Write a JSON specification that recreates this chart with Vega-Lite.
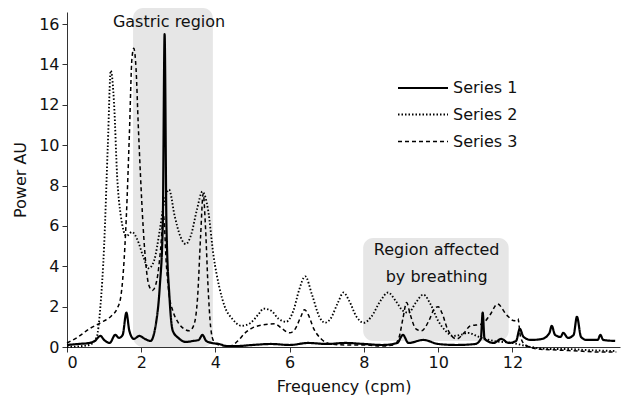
{
  "$schema": "https://vega.github.io/schema/vega-lite/v6.json",
  "width": 553,
  "height": 335,
  "autosize": "none",
  "padding": {"left": 67, "top": 12, "right": 10, "bottom": 64},
  "background": "white",
  "config": {
    "view": {"stroke": null},
    "font": "DejaVu Sans",
    "axis": {"domainColor": "#333", "tickColor": "#333", "labelColor": "#111", "titleColor": "#111", "labelFont": "DejaVu Sans", "titleFont": "DejaVu Sans", "labelFontSize": 16, "titleFontSize": 16, "titleFontWeight": "normal", "grid": false}
  },
  "datasets": {
    "regions": [
      {"name": "Gastric", "x": 1.78, "x2": 3.93, "y": 0, "y2": 16.8},
      {"name": "Breathing", "x": 7.98, "x2": 11.9, "y": 0.3, "y2": 5.4}
    ],
    "labels": [
      {"x": 2.75, "y": 16.1, "text": "Gastric region"},
      {"x": 9.96, "y": 4.8, "text": "Region affected"},
      {"x": 9.96, "y": 3.47, "text": "by breathing"}
    ],
    "curves": [
      {"series": "Series 1", "x": 0, "y": 0.1},
      {"series": "Series 1", "x": 0.3, "y": 0.15},
      {"series": "Series 1", "x": 0.6, "y": 0.2},
      {"series": "Series 1", "x": 0.75, "y": 0.3},
      {"series": "Series 1", "x": 0.9, "y": 0.55},
      {"series": "Series 1", "x": 1.0, "y": 0.35},
      {"series": "Series 1", "x": 1.15, "y": 0.2},
      {"series": "Series 1", "x": 1.3, "y": 0.6},
      {"series": "Series 1", "x": 1.4, "y": 0.45},
      {"series": "Series 1", "x": 1.5, "y": 0.6},
      {"series": "Series 1", "x": 1.6, "y": 1.7},
      {"series": "Series 1", "x": 1.68, "y": 0.8},
      {"series": "Series 1", "x": 1.8, "y": 0.4},
      {"series": "Series 1", "x": 1.95, "y": 0.55},
      {"series": "Series 1", "x": 2.1, "y": 0.4},
      {"series": "Series 1", "x": 2.25, "y": 0.3},
      {"series": "Series 1", "x": 2.4, "y": 1.2},
      {"series": "Series 1", "x": 2.5, "y": 3.0},
      {"series": "Series 1", "x": 2.58, "y": 6.0},
      {"series": "Series 1", "x": 2.63, "y": 15.5},
      {"series": "Series 1", "x": 2.68, "y": 6.0},
      {"series": "Series 1", "x": 2.76, "y": 2.5},
      {"series": "Series 1", "x": 2.85, "y": 0.8},
      {"series": "Series 1", "x": 3.0, "y": 0.45},
      {"series": "Series 1", "x": 3.2, "y": 0.25},
      {"series": "Series 1", "x": 3.4, "y": 0.3},
      {"series": "Series 1", "x": 3.55, "y": 0.35},
      {"series": "Series 1", "x": 3.65, "y": 0.6},
      {"series": "Series 1", "x": 3.75, "y": 0.3},
      {"series": "Series 1", "x": 3.9, "y": 0.2},
      {"series": "Series 1", "x": 4.1, "y": 0.15},
      {"series": "Series 1", "x": 4.3, "y": 0.05},
      {"series": "Series 1", "x": 4.6, "y": 0.05},
      {"series": "Series 1", "x": 5.0, "y": 0.1},
      {"series": "Series 1", "x": 5.5, "y": 0.15},
      {"series": "Series 1", "x": 6.0, "y": 0.1},
      {"series": "Series 1", "x": 6.5, "y": 0.2},
      {"series": "Series 1", "x": 7.0, "y": 0.15},
      {"series": "Series 1", "x": 7.5, "y": 0.2},
      {"series": "Series 1", "x": 8.0, "y": 0.15},
      {"series": "Series 1", "x": 8.5, "y": 0.1},
      {"series": "Series 1", "x": 8.9, "y": 0.2},
      {"series": "Series 1", "x": 9.05, "y": 0.6},
      {"series": "Series 1", "x": 9.2, "y": 0.2},
      {"series": "Series 1", "x": 9.6, "y": 0.35},
      {"series": "Series 1", "x": 10.0, "y": 0.15},
      {"series": "Series 1", "x": 10.5, "y": 0.1},
      {"series": "Series 1", "x": 11.0, "y": 0.15},
      {"series": "Series 1", "x": 11.15, "y": 0.4},
      {"series": "Series 1", "x": 11.2, "y": 1.7},
      {"series": "Series 1", "x": 11.25, "y": 0.4},
      {"series": "Series 1", "x": 11.5, "y": 0.2},
      {"series": "Series 1", "x": 11.7, "y": 0.4},
      {"series": "Series 1", "x": 11.9, "y": 0.2},
      {"series": "Series 1", "x": 12.1, "y": 0.3},
      {"series": "Series 1", "x": 12.2, "y": 0.9},
      {"series": "Series 1", "x": 12.3, "y": 0.5},
      {"series": "Series 1", "x": 12.5, "y": 0.35},
      {"series": "Series 1", "x": 12.8, "y": 0.4},
      {"series": "Series 1", "x": 13.0, "y": 0.7},
      {"series": "Series 1", "x": 13.06, "y": 1.05},
      {"series": "Series 1", "x": 13.15, "y": 0.6},
      {"series": "Series 1", "x": 13.3, "y": 0.5},
      {"series": "Series 1", "x": 13.37, "y": 0.7},
      {"series": "Series 1", "x": 13.5, "y": 0.45},
      {"series": "Series 1", "x": 13.65, "y": 0.6},
      {"series": "Series 1", "x": 13.74, "y": 1.5},
      {"series": "Series 1", "x": 13.85, "y": 0.5},
      {"series": "Series 1", "x": 14.0, "y": 0.35},
      {"series": "Series 1", "x": 14.3, "y": 0.35},
      {"series": "Series 1", "x": 14.37, "y": 0.6},
      {"series": "Series 1", "x": 14.45, "y": 0.35},
      {"series": "Series 1", "x": 14.77, "y": 0.3},

      {"series": "Series 2", "x": 0, "y": 0.0},
      {"series": "Series 2", "x": 0.6, "y": 0.1},
      {"series": "Series 2", "x": 0.8, "y": 0.5},
      {"series": "Series 2", "x": 0.9, "y": 2.0},
      {"series": "Series 2", "x": 1.0, "y": 5.0},
      {"series": "Series 2", "x": 1.1, "y": 10.0},
      {"series": "Series 2", "x": 1.18, "y": 13.7},
      {"series": "Series 2", "x": 1.27, "y": 12.0},
      {"series": "Series 2", "x": 1.35, "y": 8.5},
      {"series": "Series 2", "x": 1.45, "y": 6.5},
      {"series": "Series 2", "x": 1.6, "y": 5.5},
      {"series": "Series 2", "x": 1.75, "y": 5.7},
      {"series": "Series 2", "x": 1.9, "y": 5.3},
      {"series": "Series 2", "x": 2.05, "y": 4.5},
      {"series": "Series 2", "x": 2.2, "y": 3.9},
      {"series": "Series 2", "x": 2.35, "y": 4.3},
      {"series": "Series 2", "x": 2.5, "y": 5.8},
      {"series": "Series 2", "x": 2.6, "y": 7.0},
      {"series": "Series 2", "x": 2.75, "y": 7.8},
      {"series": "Series 2", "x": 2.9, "y": 6.5},
      {"series": "Series 2", "x": 3.05, "y": 5.5},
      {"series": "Series 2", "x": 3.2, "y": 5.1},
      {"series": "Series 2", "x": 3.35, "y": 5.6},
      {"series": "Series 2", "x": 3.5, "y": 6.8},
      {"series": "Series 2", "x": 3.65, "y": 7.7},
      {"series": "Series 2", "x": 3.8, "y": 6.8},
      {"series": "Series 2", "x": 3.95, "y": 4.5},
      {"series": "Series 2", "x": 4.1, "y": 3.0},
      {"series": "Series 2", "x": 4.25, "y": 2.0},
      {"series": "Series 2", "x": 4.45, "y": 1.4},
      {"series": "Series 2", "x": 4.7, "y": 1.05},
      {"series": "Series 2", "x": 4.95, "y": 1.2},
      {"series": "Series 2", "x": 5.15, "y": 1.6},
      {"series": "Series 2", "x": 5.3, "y": 1.9},
      {"series": "Series 2", "x": 5.5, "y": 1.8},
      {"series": "Series 2", "x": 5.7, "y": 1.4},
      {"series": "Series 2", "x": 5.9, "y": 1.25},
      {"series": "Series 2", "x": 6.1, "y": 1.8},
      {"series": "Series 2", "x": 6.25, "y": 2.8},
      {"series": "Series 2", "x": 6.42, "y": 3.5},
      {"series": "Series 2", "x": 6.6, "y": 2.6},
      {"series": "Series 2", "x": 6.8, "y": 1.5},
      {"series": "Series 2", "x": 6.95, "y": 1.2},
      {"series": "Series 2", "x": 7.1, "y": 1.4},
      {"series": "Series 2", "x": 7.3, "y": 2.2},
      {"series": "Series 2", "x": 7.45, "y": 2.7},
      {"series": "Series 2", "x": 7.6, "y": 2.3},
      {"series": "Series 2", "x": 7.8, "y": 1.5},
      {"series": "Series 2", "x": 8.0, "y": 1.2},
      {"series": "Series 2", "x": 8.2, "y": 1.5},
      {"series": "Series 2", "x": 8.45, "y": 2.3},
      {"series": "Series 2", "x": 8.65, "y": 2.7},
      {"series": "Series 2", "x": 8.85, "y": 2.3},
      {"series": "Series 2", "x": 9.05, "y": 1.8},
      {"series": "Series 2", "x": 9.2, "y": 1.7},
      {"series": "Series 2", "x": 9.4, "y": 2.2},
      {"series": "Series 2", "x": 9.6, "y": 2.6},
      {"series": "Series 2", "x": 9.8, "y": 2.1},
      {"series": "Series 2", "x": 10.0, "y": 1.3},
      {"series": "Series 2", "x": 10.2, "y": 0.8},
      {"series": "Series 2", "x": 10.4, "y": 0.55},
      {"series": "Series 2", "x": 10.6, "y": 0.6},
      {"series": "Series 2", "x": 10.8, "y": 0.7},
      {"series": "Series 2", "x": 11.1, "y": 0.5},
      {"series": "Series 2", "x": 11.5, "y": 0.3},
      {"series": "Series 2", "x": 12.0, "y": 0.2},
      {"series": "Series 2", "x": 12.5, "y": 0.0},
      {"series": "Series 2", "x": 13.0, "y": -0.1},
      {"series": "Series 2", "x": 13.5, "y": -0.1},
      {"series": "Series 2", "x": 14.0, "y": -0.15},
      {"series": "Series 2", "x": 14.8, "y": -0.2},

      {"series": "Series 3", "x": 0, "y": 0.2},
      {"series": "Series 3", "x": 0.3, "y": 0.5},
      {"series": "Series 3", "x": 0.6, "y": 0.9},
      {"series": "Series 3", "x": 0.9, "y": 1.2},
      {"series": "Series 3", "x": 1.2, "y": 1.55},
      {"series": "Series 3", "x": 1.35, "y": 1.9},
      {"series": "Series 3", "x": 1.45, "y": 2.5},
      {"series": "Series 3", "x": 1.52, "y": 3.8},
      {"series": "Series 3", "x": 1.6, "y": 6.5},
      {"series": "Series 3", "x": 1.68, "y": 10.5},
      {"series": "Series 3", "x": 1.75, "y": 14.3},
      {"series": "Series 3", "x": 1.8, "y": 14.8},
      {"series": "Series 3", "x": 1.86, "y": 13.8},
      {"series": "Series 3", "x": 1.92, "y": 11.0},
      {"series": "Series 3", "x": 1.98, "y": 8.5},
      {"series": "Series 3", "x": 2.05, "y": 6.0},
      {"series": "Series 3", "x": 2.12, "y": 4.2},
      {"series": "Series 3", "x": 2.2, "y": 3.1},
      {"series": "Series 3", "x": 2.3, "y": 2.8},
      {"series": "Series 3", "x": 2.42, "y": 3.3},
      {"series": "Series 3", "x": 2.52, "y": 4.8},
      {"series": "Series 3", "x": 2.6, "y": 6.5},
      {"series": "Series 3", "x": 2.68, "y": 4.0},
      {"series": "Series 3", "x": 2.75, "y": 2.6},
      {"series": "Series 3", "x": 2.85, "y": 1.8},
      {"series": "Series 3", "x": 3.0, "y": 1.2},
      {"series": "Series 3", "x": 3.15, "y": 0.9},
      {"series": "Series 3", "x": 3.3, "y": 0.8},
      {"series": "Series 3", "x": 3.42, "y": 1.1},
      {"series": "Series 3", "x": 3.52, "y": 2.5},
      {"series": "Series 3", "x": 3.6, "y": 5.5},
      {"series": "Series 3", "x": 3.67, "y": 7.6},
      {"series": "Series 3", "x": 3.73, "y": 6.0},
      {"series": "Series 3", "x": 3.8, "y": 3.0},
      {"series": "Series 3", "x": 3.87, "y": 1.0},
      {"series": "Series 3", "x": 3.95, "y": 0.3},
      {"series": "Series 3", "x": 4.1, "y": 0.1},
      {"series": "Series 3", "x": 4.4, "y": 0.05},
      {"series": "Series 3", "x": 4.6, "y": 0.3},
      {"series": "Series 3", "x": 4.8, "y": 0.7},
      {"series": "Series 3", "x": 5.0, "y": 0.95},
      {"series": "Series 3", "x": 5.3, "y": 1.1},
      {"series": "Series 3", "x": 5.6, "y": 1.15},
      {"series": "Series 3", "x": 5.8, "y": 0.9},
      {"series": "Series 3", "x": 6.0, "y": 0.7},
      {"series": "Series 3", "x": 6.15, "y": 0.9},
      {"series": "Series 3", "x": 6.3, "y": 1.5},
      {"series": "Series 3", "x": 6.4, "y": 1.85},
      {"series": "Series 3", "x": 6.5, "y": 1.6},
      {"series": "Series 3", "x": 6.65, "y": 0.9},
      {"series": "Series 3", "x": 6.85, "y": 0.4},
      {"series": "Series 3", "x": 7.1, "y": 0.15},
      {"series": "Series 3", "x": 7.5, "y": 0.1},
      {"series": "Series 3", "x": 8.0, "y": 0.1},
      {"series": "Series 3", "x": 8.5, "y": 0.05},
      {"series": "Series 3", "x": 8.8, "y": 0.1},
      {"series": "Series 3", "x": 8.95, "y": 0.5},
      {"series": "Series 3", "x": 9.05, "y": 1.4},
      {"series": "Series 3", "x": 9.15, "y": 2.2},
      {"series": "Series 3", "x": 9.25, "y": 1.6},
      {"series": "Series 3", "x": 9.4, "y": 0.9},
      {"series": "Series 3", "x": 9.55, "y": 0.8},
      {"series": "Series 3", "x": 9.75, "y": 1.3},
      {"series": "Series 3", "x": 9.9, "y": 1.9},
      {"series": "Series 3", "x": 10.0, "y": 2.0},
      {"series": "Series 3", "x": 10.1, "y": 1.7},
      {"series": "Series 3", "x": 10.25, "y": 0.9},
      {"series": "Series 3", "x": 10.5, "y": 0.4},
      {"series": "Series 3", "x": 10.7, "y": 0.7},
      {"series": "Series 3", "x": 10.86, "y": 1.04},
      {"series": "Series 3", "x": 11.18, "y": 1.14},
      {"series": "Series 3", "x": 11.4, "y": 1.6},
      {"series": "Series 3", "x": 11.6, "y": 2.13},
      {"series": "Series 3", "x": 11.85, "y": 1.58},
      {"series": "Series 3", "x": 12.05, "y": 1.3},
      {"series": "Series 3", "x": 12.15, "y": 1.4},
      {"series": "Series 3", "x": 12.22, "y": 0.5},
      {"series": "Series 3", "x": 12.35, "y": 0.1},
      {"series": "Series 3", "x": 12.7, "y": -0.1},
      {"series": "Series 3", "x": 13.2, "y": -0.15},
      {"series": "Series 3", "x": 13.8, "y": -0.2},
      {"series": "Series 3", "x": 14.3, "y": -0.25},
      {"series": "Series 3", "x": 14.8, "y": -0.25}
    ]
  },
  "layer": [
    {
      "data": {"name": "regions"},
      "mark": {"type": "rect", "color": "#e6e6e6", "cornerRadius": 10},
      "encoding": {
        "x": {"field": "x", "type": "quantitative", "scale": {"domain": [0, 14.9], "nice": false, "zero": false},
          "axis": {"values": [0, 2, 4, 6, 8, 10, 12], "title": "Frequency (cpm)", "tickSize": 5, "labelPadding": 2, "titlePadding": 8}},
        "x2": {"field": "x2"},
        "y": {"field": "y", "type": "quantitative", "scale": {"domain": [0, 16.6], "nice": false},
          "axis": {"values": [0, 2, 4, 6, 8, 10, 12, 14, 16], "title": "Power AU", "tickSize": 5, "labelPadding": 3, "titlePadding": 10}},
        "y2": {"field": "y2"}
      }
    },
    {
      "data": {"name": "curves"},
      "mark": {"type": "line", "color": "black", "interpolate": "monotone", "clip": false},
      "encoding": {
        "x": {"field": "x", "type": "quantitative"},
        "y": {"field": "y", "type": "quantitative"},
        "detail": {"field": "series"},
        "strokeDash": {"field": "series", "type": "nominal",
          "scale": {"domain": ["Series 1", "Series 2", "Series 3"], "range": [[1, 0], [1.5, 2], [4, 3]]},
          "legend": {"orient": "none", "legendX": 342, "legendY": 62, "title": null, "symbolType": "M-2,0H2", "symbolSize": 625, "symbolStrokeWidth": 1, "symbolStrokeColor": "black", "labelFontSize": 16, "labelFont": "DejaVu Sans", "labelColor": "#111", "rowPadding": 5, "labelOffset": 16}},
        "strokeWidth": {"field": "series", "type": "nominal",
          "scale": {"domain": ["Series 1", "Series 2", "Series 3"], "range": [2.2, 1.5, 2.5]}, "legend": null}
      }
    },
    {
      "data": {"name": "labels"},
      "mark": {"type": "text", "fontSize": 16, "font": "DejaVu Sans", "color": "#111", "baseline": "middle", "align": "center"},
      "encoding": {
        "x": {"field": "x", "type": "quantitative"},
        "y": {"field": "y", "type": "quantitative"},
        "text": {"field": "text"}
      }
    }
  ]
}
